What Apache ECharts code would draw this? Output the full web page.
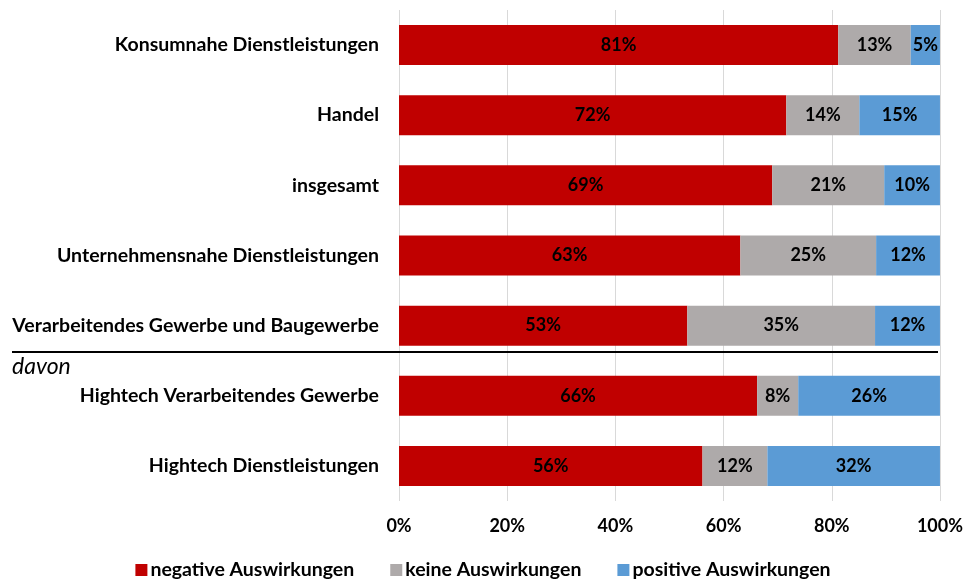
<!DOCTYPE html>
<html>
<head>
<meta charset="utf-8">
<style>
  html, body { margin: 0; padding: 0; background: #fff; }
  #chart { width: 966px; height: 585px; }
</style>
</head>
<body>
<div id="chart"></div>
<script src="https://cdn.jsdelivr.net/npm/echarts@6/dist/echarts.min.js"></script>
<script>
// Bereiche von oben nach unten
var categories = [
  'Konsumnahe Dienstleistungen',
  'Handel',
  'insgesamt',
  'Unternehmensnahe Dienstleistungen',
  'Verarbeitendes Gewerbe und Baugewerbe',
  'Hightech Verarbeitendes Gewerbe',
  'Hightech Dienstleistungen'
];
var negative = [81.2, 71.6, 69.0, 63.1, 53.3, 66.2, 56.1];
var keine    = [13.4, 13.5, 20.7, 25.1, 34.7, 7.6, 12.0];
var positive = [5.4, 14.9, 10.3, 11.8, 12.0, 26.2, 31.9];
var xTicks = [0, 20, 40, 60, 80, 100];

var font = 'Lato, "Open Sans", sans-serif';
var chart = echarts.init(document.getElementById('chart'));

function barSeries(name, data, color) {
  return {
    name: name,
    type: 'bar',
    stack: 'total',
    data: data,
    barWidth: 40,
    itemStyle: { color: color },
    label: {
      show: true,
      position: 'inside',
      color: '#000',
      fontFamily: font,
      fontWeight: 'bold',
      fontSize: 18,
      formatter: function (p) { return Math.round(p.value) + '%'; }
    }
  };
}

chart.setOption({
  animation: false,
  textStyle: { fontFamily: font },
  grid: { left: 399, right: 25, top: 10, bottom: 84, containLabel: false },
  xAxis: {
    type: 'value',
    min: xTicks[0],
    max: xTicks[xTicks.length - 1],
    interval: 20,
    axisLine: { show: false },
    axisTick: { show: false },
    splitLine: { show: true, lineStyle: { color: '#d9d9d9', width: 1 } },
    axisLabel: {
      color: '#000',
      fontWeight: 'bold',
      fontSize: 18,
      margin: 16,
      formatter: '{value}%'
    }
  },
  yAxis: {
    type: 'category',
    inverse: true,
    data: categories,
    axisLine: { show: false },
    axisTick: { show: false },
    axisLabel: {
      color: '#000',
      fontWeight: 'bold',
      fontSize: 19.5,
      margin: 20
    }
  },
  legend: {
    bottom: 0,
    left: 'center',
    itemWidth: 12,
    itemHeight: 12,
    itemGap: 36,
    icon: 'rect',
    textStyle: { color: '#000', fontWeight: 'bold', fontSize: 19.5, fontFamily: font, padding: [0, 0, 0, -2] },
    data: ['negative Auswirkungen', 'keine Auswirkungen', 'positive Auswirkungen']
  },
  graphic: [
    {
      type: 'line',
      shape: { x1: 12, y1: 352, x2: 938, y2: 352 },
      style: { stroke: '#000', lineWidth: 2 },
      z: 100
    },
    {
      type: 'text',
      left: 12,
      top: 355,
      style: { text: 'davon', fill: '#000', fontSize: 23, fontStyle: 'italic', fontFamily: font }
    }
  ],
  series: [
    barSeries('negative Auswirkungen', negative, '#c00000'),
    barSeries('keine Auswirkungen', keine, '#aeaaaa'),
    barSeries('positive Auswirkungen', positive, '#5b9bd5')
  ]
});
</script>
</body>
</html>
